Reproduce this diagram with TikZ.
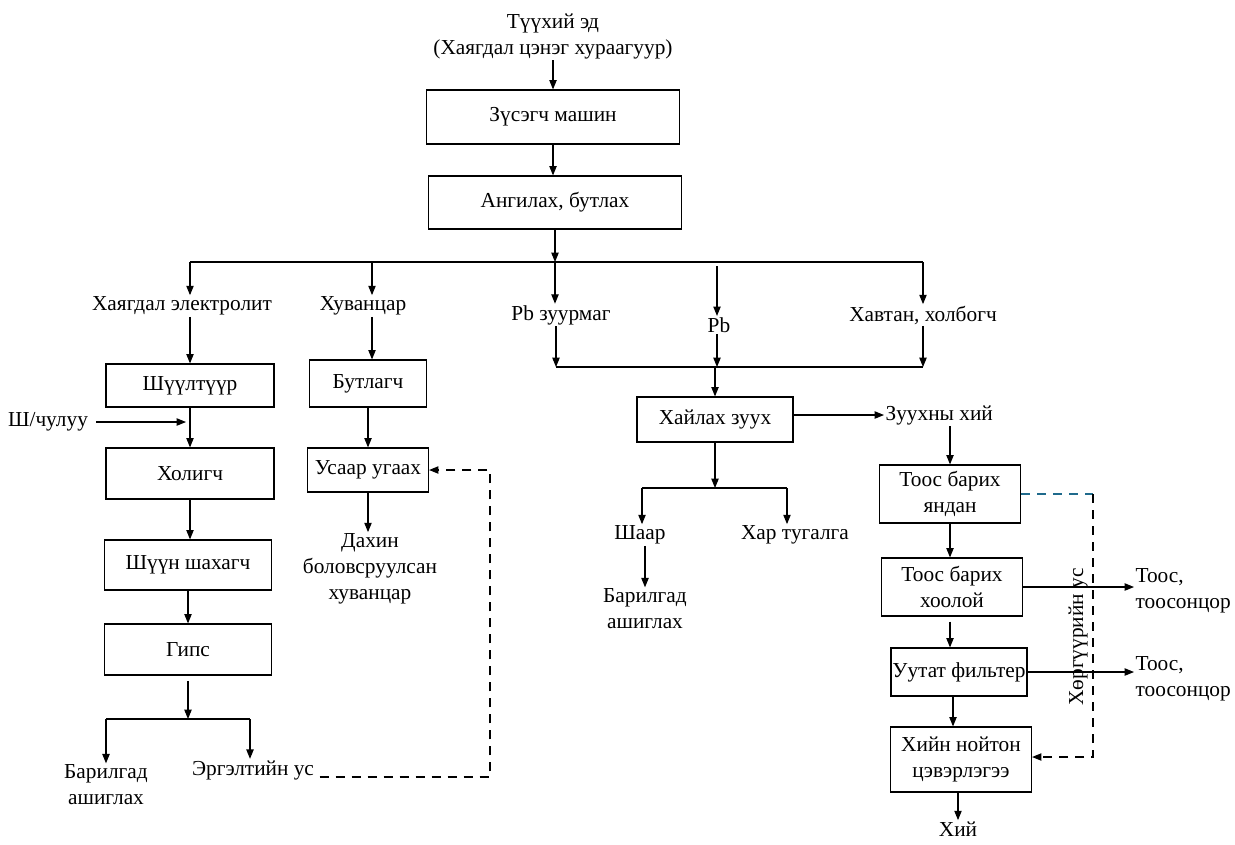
\documentclass[tikz,border=0pt]{standalone}
\usepackage{fontspec}
\setmainfont{Liberation Serif}
\usetikzlibrary{arrows.meta,calc}
\definecolor{dashblue}{HTML}{1F6A8C}
\begin{document}
\begin{tikzpicture}[x=0.75pt,y=-0.75pt,
  every node/.style={font=\fontsize{16pt}{19.5pt}\selectfont, inner sep=1pt},
  box/.style={draw, line width=0.9pt, inner sep=0pt, align=center},
  lbl/.style={align=center},
  arr/.style={line width=0.8pt,-{Triangle[length=7pt,width=5.5pt]}},
  ln/.style={line width=0.8pt},
  dsh/.style={line width=0.8pt, dash pattern=on 7pt off 5pt},
  dsharr/.style={dsh,-{Triangle[length=7pt,width=5.5pt]}}]
\useasboundingbox (0,0) rectangle (1235,844);
% top
\node[lbl] (raw) at (553,36) {Түүхий эд\\(Хаягдал цэнэг хураагуур)};
\node[box,minimum width=253*0.75pt,minimum height=54*0.75pt] (zus) at (553,117) {Зүсэгч машин};
\node[box,minimum width=253*0.75pt,minimum height=53*0.75pt] (ang) at (555,202.5) {Ангилах, бутлах};
\draw[arr] (raw.south -| zus.north) -- (zus.north);
\draw[arr] (zus.south) -- (zus.south |- ang.north);
\coordinate (bus) at (555,262);
\coordinate (busL) at (190,262);
\coordinate (busR) at (923,262);
\draw[arr] (ang.south) -- (bus);
\draw[ln] (busL) -- (busR);
% second level labels
\node[lbl] (elec) at (182,306) {Хаягдал электролит};
\node[lbl] (huv) at (363,306) {Хуванцар};
\node[lbl] (pbz) at (561,315) {Pb зуурмаг};
\node[lbl] (pb) at (719,325) {Pb};
\node[lbl] (havt) at (923,315) {Хавтан, холбогч};
\coordinate (t2) at (372,262);
\coordinate (t4) at (717,266);
\draw[arr] (busL) -- (busL |- elec.north);
\draw[arr] (t2) -- (t2 |- huv.north);
\draw[arr] (bus) -- (bus |- pbz.north);
\draw[arr] (t4) -- (t4 |- pb.north);
\draw[arr] (busR) -- (busR |- havt.north);
% merge
\coordinate (m1) at (556,367);
\coordinate (m3) at (923,367);
\draw[arr] (pbz.south -| m1) -- (m1);
\draw[arr] (pb.south -| t4) -- (t4 |- m1);
\draw[arr] (havt.south) -- (m3);
\draw[ln] (m1) -- (m3);
\node[box,minimum width=156*0.75pt,minimum height=45*0.75pt] (hail) at (715,419.5) {Хайлах зуух};
\draw[arr] (hail.north |- m1) -- (hail.north);
\node[lbl,anchor=west] (zhii) at (884,415) {Зуухны хий};
\draw[arr] (hail.east |- zhii.west) -- (zhii.west);
% slag branch
\coordinate (b2) at (715,488);
\coordinate (b2L) at (642,488);
\coordinate (b2R) at (787,488);
\draw[arr] (hail.south) -- (b2);
\draw[ln] (b2L) -- (b2R);
\node[lbl] (shaar) at (640,535) {Шаар};
\node[lbl] (hart) at (795,535) {Хар тугалга};
\draw[arr] (b2L) -- (b2L |- shaar.north);
\draw[arr] (b2R) -- (b2R |- hart.north);
\node[lbl] (bar2) at (645,609) {Барилгад\\ашиглах};
\draw[arr] (shaar.south -| bar2.north) -- (bar2.north);
% right column
\node[box,minimum width=141*0.75pt,minimum height=58*0.75pt] (yandan) at (950,494) {Тоос барих\\яндан};
\node[box,minimum width=141*0.75pt,minimum height=58*0.75pt] (hoolo) at (952,587) {Тоос барих\\хоолой};
\node[box,minimum width=136*0.75pt,minimum height=48*0.75pt] (fil) at (959,672) {Уутат фильтер};
\node[box,minimum width=141*0.75pt,minimum height=65*0.75pt] (noit) at (961,759.5) {Хийн нойтон\\цэвэрлэгээ};
\node[lbl] (hii) at (958,829) {Хий};
\draw[arr] (yandan.north |- zhii.south) -- (yandan.north);
\draw[arr] (yandan.south) -- (yandan.south |- hoolo.north);
\draw[arr] (hoolo.south -| yandan.south) ++(0,5) -- (fil.north -| yandan.south);
\draw[arr] (fil.south -| 953,0) -- (noit.north -| 953,0);
\draw[arr] (noit.south -| hii.north) -- (hii.north);
\node[lbl,align=left,anchor=west] (toos1) at (1134,591) {Тоос,\\тоосонцор};
\node[lbl,align=left,anchor=west] (toos2) at (1134,679) {Тоос,\\тоосонцор};
\draw[arr] (hoolo.east) -- (hoolo.east -| toos1.west);
\draw[arr] (fil.east) -- (fil.east -| toos2.west);
\coordinate (c1) at (1093,494);
\coordinate (c2) at (1093,757);
\draw[dsh,dashblue] (yandan.east) -- (c1);
\draw[dsharr] (c1) -- (c2) -- (c2 -| noit.east);
\node[lbl,rotate=90] (horg) at (1078,637) {Хөргүүрийн ус};
% left column
\node[box,minimum width=168*0.75pt,minimum height=43*0.75pt] (shuu) at (190,385.5) {Шүүлтүүр};
\node[box,minimum width=168*0.75pt,minimum height=51*0.75pt] (hol) at (190,473.5) {Холигч};
\node[box,minimum width=167*0.75pt,minimum height=50*0.75pt] (shah) at (188,565) {Шүүн шахагч};
\node[box,minimum width=167*0.75pt,minimum height=51*0.75pt] (gips) at (188,649.5) {Гипс};
\draw[arr] (elec.south -| shuu.north) -- (shuu.north);
\draw[arr] (shuu.south) -- (hol.north);
\draw[arr] (hol.south) -- (hol.south |- shah.north);
\draw[arr] (shah.south) -- (gips.north);
\node[lbl] (shch) at (48,422) {Ш/чулуу};
\coordinate (shin) at (186,422);
\draw[arr] ([xshift=5pt]shch.east) -- (shin);
\coordinate (b1) at (188,719);
\coordinate (b1L) at (106,719);
\coordinate (b1R) at (250,719);
\draw[arr] ([yshift=-4pt]gips.south) -- (b1);
\draw[ln] (b1L) -- (b1R);
\node[lbl] (bar1) at (106,785) {Барилгад\\ашиглах};
\node[lbl] (erg) at (253,770) {Эргэлтийн ус};
\draw[arr] (b1L) -- (bar1.north);
\draw[arr] (b1R) -- (b1R |- erg.north);
% middle column
\node[box,minimum width=117*0.75pt,minimum height=47*0.75pt] (but) at (368,383.5) {Бутлагч};
\node[box,minimum width=121*0.75pt,minimum height=44*0.75pt] (usaar) at (368,470) {Усаар угаах};
\node[lbl] (dahin) at (370,569) {Дахин\\боловсруулсан\\хуванцар};
\draw[arr] (huv.south -| t2) -- (but.north -| t2);
\draw[arr] (but.south) -- (usaar.north);
\draw[arr] (usaar.south) -- (usaar.south |- dahin.north);
\coordinate (d1) at (490,777);
\coordinate (d2) at (490,470);
\draw[dsharr] ([xshift=3pt]erg.east |- d1) -- (d1) -- (d2) -- (usaar.east);
\end{tikzpicture}
\end{document}
